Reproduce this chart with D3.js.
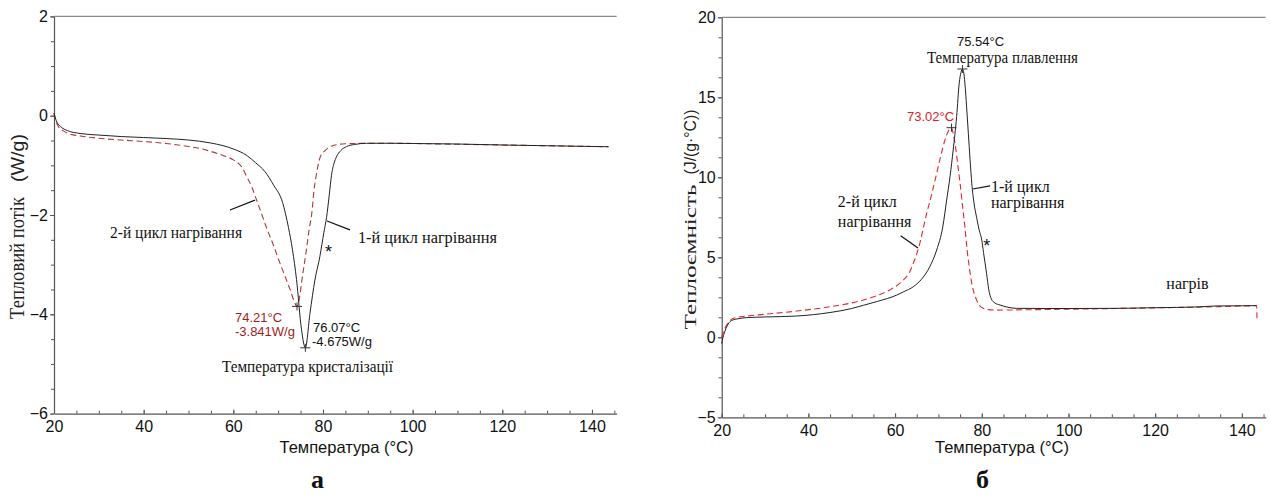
<!DOCTYPE html>
<html><head><meta charset="utf-8">
<script src="https://cdn.jsdelivr.net/npm/d3@7"></script>
<style>
html,body{margin:0;padding:0;background:#fff;}
svg text{font-family:"Liberation Sans",Arial,sans-serif;}
.serif{font-family:"Liberation Serif","Times New Roman",serif !important;}
</style></head>
<body>
<svg id="chart" width="1270" height="495"></svg>
<script>
// ---------- DATA ----------
const xTickValues = [20, 40, 60, 80, 100, 120, 140];
const leftYTickValues = [-6, -4, -2, 0, 2];
const rightYTickValues = [-5, 0, 5, 10, 15, 20];

// (a) heat flow, W/g — 1st heating cycle (solid black)
const heatFlowCycle1 = [
  [20,0.05],[20.5,-0.1],[21.5,-0.22],[23,-0.3],[26,-0.36],[30,-0.39],[35,-0.42],[40,-0.44],
  [45,-0.46],[50,-0.49],[55,-0.55],[60,-0.67],[63,-0.8],[65,-0.95],[67,-1.12],[69,-1.4],
  [71,-1.75],[72.3,-2.25],[73.2,-2.7],[74.1,-3.3],[75.2,-4.3],[76.07,-4.675],[77.1,-3.98],
  [78.2,-3.31],[79.3,-2.84],[80.2,-2.35],[80.8,-2.05],[81.4,-1.6],[81.9,-1.2],[82.5,-0.95],
  [83,-0.83],[84,-0.7],[85.3,-0.62],[87,-0.58],[89.7,-0.556],[95,-0.555],[100,-0.56],
  [110,-0.57],[120,-0.59],[130,-0.605],[140,-0.62],[143.7,-0.625]
];
// (a) heat flow, W/g — 2nd heating cycle (dashed red)
const heatFlowCycle2 = [
  [20,0.05],[20.4,-0.1],[21,-0.22],[22,-0.3],[23,-0.35],[26,-0.41],[30,-0.455],[35,-0.49],
  [40,-0.52],[45,-0.56],[50,-0.62],[52.6,-0.66],[55,-0.72],[58,-0.81],[60,-0.89],[62,-1.05],
  [63,-1.23],[64.2,-1.45],[65.2,-1.7],[66.4,-2.0],[67.5,-2.28],[68.7,-2.55],[70.4,-2.97],
  [71.6,-3.25],[72.7,-3.51],[73.5,-3.72],[74.21,-3.841],[74.8,-3.65],[75.3,-3.31],[75.9,-2.95],
  [76.4,-2.64],[76.9,-2.3],[77.5,-1.97],[78,-1.5],[78.5,-1.2],[79.4,-0.83],[80.5,-0.7],
  [82.3,-0.6],[85,-0.565],[89.7,-0.556],[95,-0.555],[100,-0.56],[110,-0.575],[120,-0.59],
  [130,-0.605],[140,-0.62],[143.7,-0.625]
];
// (б) heat capacity, J/(g·°C) — 1st heating cycle (solid black)
const heatCapCycle1 = [
  [20,-0.4],[20.3,0.0],[20.7,0.35],[21.15,0.66],[22.3,1.05],[24,1.17],[25.8,1.23],[30,1.27],
  [37.3,1.33],[45,1.55],[50,1.8],[52.7,2.0],[56,2.25],[60.4,2.64],[62,2.85],[64.2,3.16],
  [66,3.6],[68,4.41],[69.6,5.46],[71,6.9],[71.9,8.58],[72.7,10.1],[73.4,11.7],[74.2,13.8],
  [74.8,15.9],[75.2,16.55],[75.54,16.77],[75.8,16.6],[76.1,15.9],[76.5,14.4],[76.9,12.75],
  [77.3,11.1],[77.7,9.6],[78.2,8.4],[78.8,7.5],[79.4,6.7],[80.0,6.08],[80.4,5.3],[81.1,4.0],
  [81.6,3.0],[82.2,2.4],[83,2.15],[84.2,2.02],[86,1.88],[88,1.81],[95,1.8],[100,1.8],
  [111,1.81],[120,1.85],[130,1.9],[134.2,1.96],[140,1.97],[143.4,1.98]
];
// (б) heat capacity, J/(g·°C) — 2nd heating cycle (dashed red)
const heatCapCycle2 = [
  [20,0.0],[20.4,0.35],[21.15,0.77],[22.7,1.19],[25.8,1.33],[30,1.44],[37.3,1.64],[45,1.91],
  [50,2.15],[52.7,2.33],[56,2.62],[58.8,2.96],[61.9,3.58],[63.3,4.05],[64.2,4.62],[65.4,5.56],
  [67.3,7.75],[68.5,9.0],[69.6,10.25],[70.5,11.3],[71.5,12.33],[72.3,12.9],[73.02,13.1],
  [73.5,12.6],[74.05,11.7],[74.5,10.7],[75.0,9.62],[75.6,8.1],[76.1,6.91],[76.6,5.5],
  [77.1,4.41],[77.7,3.37],[78.3,2.7],[78.8,2.33],[79.5,1.98],[80.3,1.81],[81.5,1.73],
  [83.4,1.70],[90,1.72],[103.4,1.77],[115,1.82],[126.5,1.87],[135,1.92],[143.4,1.97],[143.5,1.08]
];
const peaksLeft = [[74.21,-3.841],[76.07,-4.675]];
const peaksRight = [[75.54,16.77],[73.02,13.1]];

// ---------- DRAW ----------
const svg = d3.select("#chart");
const AXIS = "#555";

function panel(cfg){
  const g = svg.append("g");
  const x = d3.scaleLinear().domain([20,145.5]).range(cfg.xr);
  const y = d3.scaleLinear().domain(cfg.yd).range(cfg.yr);
  const [x0,x1] = cfg.xr, [yb,yt] = cfg.yr;

  g.append("line").attr("x1",x0).attr("x2",x1).attr("y1",yt).attr("y2",yt)
    .attr("stroke","#8a8a8a").attr("stroke-width",1.2);

  const minorX = d3.range(20,145.1,5);
  const minorY = d3.range(cfg.yd[0], cfg.yd[1]+1e-9, cfg.minor);
  g.append("g").attr("transform",`translate(0,${yb})`)
    .call(d3.axisBottom(x).tickValues(minorX).tickSize(-3).tickFormat(""))
    .call(a=>{a.select(".domain").remove(); a.selectAll("line").attr("stroke",AXIS);});
  g.append("g").attr("transform",`translate(${x0},0)`)
    .call(d3.axisLeft(y).tickValues(minorY).tickSize(3).tickFormat(""))
    .call(a=>{a.select(".domain").remove(); a.selectAll("line").attr("stroke",AXIS);});

  g.append("g").attr("transform",`translate(0,${yb})`)
    .call(d3.axisBottom(x).tickValues(xTickValues).tickSize(-4).tickPadding(7).tickSizeOuter(0))
    .call(a=>{a.select(".domain").attr("stroke",AXIS).attr("stroke-width",1.2);
      a.selectAll("line").attr("stroke",AXIS);
      a.selectAll("text").attr("font-size",16).attr("fill","#111")
        .style("font-family","Liberation Sans, Arial, sans-serif");});
  g.append("g").attr("transform",`translate(${x0},0)`)
    .call(d3.axisLeft(y).tickValues(cfg.yticks).tickSize(4).tickPadding(2).tickSizeOuter(0))
    .call(a=>{a.select(".domain").attr("stroke",AXIS).attr("stroke-width",1.2);
      a.selectAll("line").attr("stroke",AXIS);
      a.selectAll("text").attr("font-size",16).attr("fill","#111")
        .style("font-family","Liberation Sans, Arial, sans-serif");});

  const line = d3.line().x(d=>x(d[0])).y(d=>y(d[1])).curve(d3.curveMonotoneX);
  g.append("path").datum(cfg.s2).attr("d",line).attr("fill","none")
    .attr("stroke",cfg.redColor).attr("stroke-width",1.1).attr("stroke-dasharray","6,3.5");
  g.append("path").datum(cfg.s1).attr("d",line).attr("fill","none")
    .attr("stroke","#222").attr("stroke-width",1);

  cfg.peaks.forEach(p=>{
    const cx=x(p[0]), cy=y(p[1]);
    g.append("line").attr("x1",cx-5).attr("x2",cx+5).attr("y1",cy).attr("y2",cy).attr("stroke","#333");
    g.append("line").attr("x1",cx).attr("x2",cx).attr("y1",cy-4).attr("y2",cy+4).attr("stroke","#333");
  });
  return {g,x,y};
}

function txt(P, T, v, s, o){
  o = o||{};
  const t = P.g.append("text").attr("x",P.x(T)).attr("y",P.y(v)).text(s)
    .attr("font-size",o.size||16).attr("fill",o.color||"#111")
    .attr("text-anchor",o.anchor||"start");
  if(o.serif) t.attr("class","serif");
  if(o.bold) t.attr("font-weight","bold");
  if(o.len) t.attr("textLength",o.len).attr("lengthAdjust","spacingAndGlyphs");
  return t;
}
function lead(P, a, b){
  P.g.append("line").attr("x1",P.x(a[0])).attr("y1",P.y(a[1]))
    .attr("x2",P.x(b[0])).attr("y2",P.y(b[1])).attr("stroke","#111").attr("stroke-width",1.2);
}

// ---- panel a ----
const L = panel({xr:[54,616.6], yd:[-6,2], yr:[413.6,16.4], minor:0.5, yticks:leftYTickValues,
  s1:heatFlowCycle1, s2:heatFlowCycle2, redColor:"#ab3a36", peaks:peaksLeft});
txt(L, 32.5, -2.463, "2-й цикл нагрівання", {serif:true, size:16, len:132});
lead(L, [59.26,-1.90], [64.84,-1.70]);
txt(L, 87.8, -2.564, "1-й цикл нагрівання", {serif:true, size:16, len:139});
lead(L, [80.9,-2.12], [86.03,-2.30]);
txt(L, 81.23, -2.866, "*", {size:18, anchor:"middle"});
txt(L, 60.37, -4.153, "74.21°C", {size:13, color:"#a01e1e"});
txt(L, 60.37, -4.43, "-3.841W/g", {size:13, color:"#a01e1e"});
txt(L, 77.77, -4.347, "76.07°C", {size:13});
txt(L, 77.55, -4.648, "-4.675W/g", {size:13});
txt(L, 76.55, -5.162, "Температура кристалізації", {serif:true, size:16, anchor:"middle", len:171});

// ---- panel б ----
const R = panel({xr:[721.7,1265.7], yd:[-5,20], yr:[417.3,17.3], minor:1.25, yticks:rightYTickValues,
  s1:heatCapCycle1, s2:heatCapCycle2, redColor:"#e4282a", peaks:peaksRight});
txt(R, 79.7, 18.21, "75.54°C", {size:13, anchor:"middle"});
txt(R, 84.78, 17.14, "Температура плавлення", {serif:true, size:16, anchor:"middle", len:151});
txt(R, 68.17, 13.52, "73.02°C", {size:13, anchor:"middle", color:"#d8222a"});
txt(R, 82.1, 9.08, "1-й цикл", {serif:true, size:16});
txt(R, 82.1, 8.08, "нагрівання", {serif:true, size:16});
lead(R, [77.9,9.27], [81.93,9.46]);
txt(R, 46.8, 8.125, "2-й цикл", {serif:true, size:16});
txt(R, 46.8, 6.91, "нагрівання", {serif:true, size:16});
lead(R, [61.29,6.35], [65.28,5.58]);
txt(R, 81.13, 5.33, "*", {size:18, anchor:"middle"});
txt(R, 127.45, 3.0, "нагрів", {serif:true, size:16, anchor:"middle"});

// ---- axis titles ----
svg.append("text").attr("x",346.5).attr("y",453).attr("text-anchor","middle")
  .attr("font-size",16.5).attr("fill","#111").text("Температура (°C)");
svg.append("text").attr("x",1002).attr("y",453).attr("text-anchor","middle")
  .attr("font-size",16.5).attr("fill","#111").text("Температура (°C)");
svg.append("text").attr("class","serif").attr("x",317.5).attr("y",488).attr("text-anchor","middle")
  .attr("font-size",26).attr("font-weight","bold").attr("fill","#111").text("а");
svg.append("text").attr("class","serif").attr("x",982.5).attr("y",488).attr("text-anchor","middle")
  .attr("font-size",26).attr("font-weight","bold").attr("fill","#111").text("б");

function ytitle(cx, parts){
  const g = svg.append("g").attr("transform",`translate(${cx},0) rotate(-90)`);
  parts.forEach(p=>{
    const t = g.append("text").attr("x",-p.c).attr("y",6).attr("text-anchor","middle")
      .attr("font-size",p.size).attr("fill","#222").text(p.s);
    if(p.serif) t.attr("class","serif");
    if(p.len) t.attr("textLength",p.len).attr("lengthAdjust","spacingAndGlyphs");
  });
}
ytitle(18, [{s:"Тепловий потік", c:258, size:21, serif:true, len:122},
            {s:"(W/g)", c:158, size:18, len:48}]);
ytitle(690, [{s:"Теплоємність", c:257, size:17, serif:true, len:145},
             {s:"(J/(g·°C))", c:142, size:16, len:65}]);
</script>
</body></html>
